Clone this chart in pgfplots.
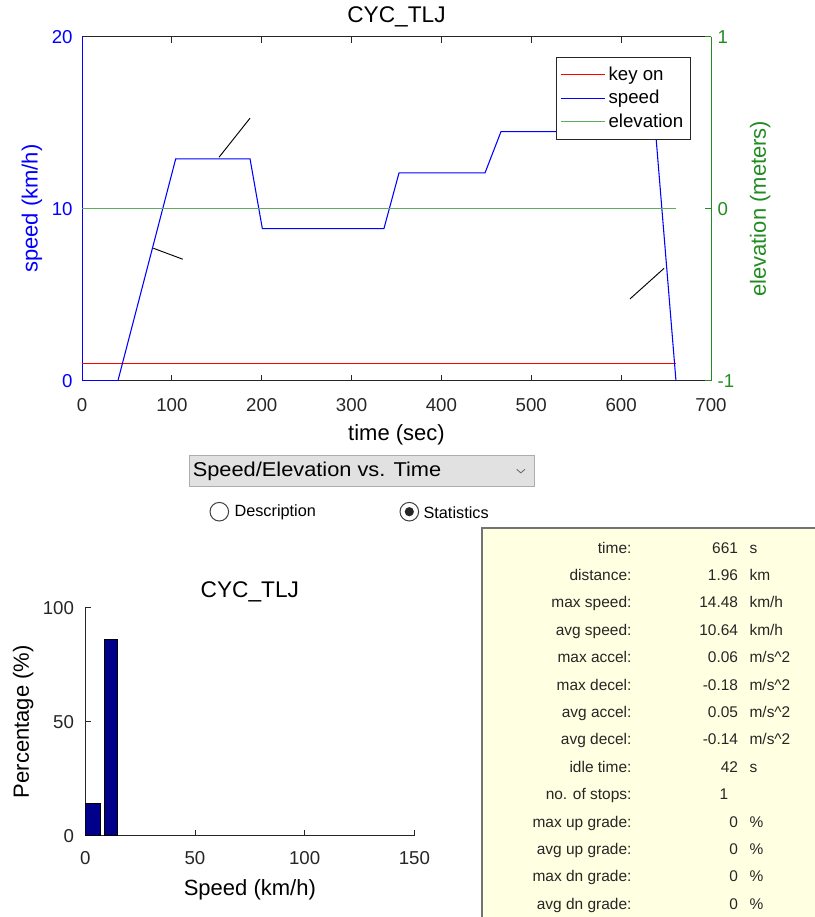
\documentclass[border=0pt]{standalone}
\usepackage{pgfplots}
\pgfplotsset{compat=1.18}
\usepackage{fontspec}
\setmainfont{Liberation Sans}
\definecolor{axgray}{RGB}{38,38,38}
\definecolor{axgreen}{RGB}{34,139,34}
\definecolor{elevgreen}{RGB}{95,172,95}
\definecolor{keyred}{RGB}{255,0,0}
\definecolor{speedblue}{RGB}{0,0,255}
\definecolor{navybar}{RGB}{0,0,139}
\definecolor{panelyellow}{RGB}{255,255,225}
\definecolor{ddgray}{RGB}{225,225,225}
\definecolor{ddborder}{RGB}{173,173,173}
\newcommand{\fs}[1]{\fontsize{#1}{#1}\selectfont}
\pgfplotsset{every axis title shift=0pt}
\begin{document}
\begin{tikzpicture}
\path[use as bounding box] (0pt,0pt) rectangle (610.5pt,-687.75pt);
% ---------- top: speed / elevation vs time ----------
\begin{axis}[
  at={(61.5pt,-285.5pt)}, anchor=south west,
  scale only axis, width=471.75pt, height=258pt,
  xmin=0, xmax=700, ymin=0, ymax=20,
  axis x line*=box, axis y line*=left,
  x axis line style={draw=axgray, line width=0.6pt},
  y axis line style={draw=speedblue, line width=0.6pt},
  tick align=inside, major tick length=4.5pt,
  xtick={0,100,...,700}, ytick={0,10,20},
  xtick style={draw=axgray, line width=0.6pt},
  ytick style={draw=speedblue, line width=0.6pt},
  /pgf/number format/assume math mode=true,
  xticklabel style={font=\fs{14}, text=axgray, yshift=-9.5pt},
  yticklabel style={font=\fs{14}, text=speedblue, xshift=-3.5pt},
  title={CYC\_TLJ},
  title style={font=\fs{17}, text=black, at={(0.5,1.057)}, anchor=center},
  xlabel={time (sec)},
  xlabel style={font=\fs{16.5}, text=black, at={(0.5,-0.158)}, anchor=center},
  ylabel={speed (km/h)},
  ylabel style={font=\fs{16.5}, text=speedblue, at={(-0.0795,0.5)}, anchor=center},
]
\addplot[draw=keyred, line width=1.1pt] coordinates {(0,1) (661,1)};
\addplot[draw=speedblue, line width=0.8pt] coordinates {
 (0,0) (40,0) (104.3,12.9) (187,12.9) (200.7,8.84) (336,8.84)
 (352.8,12.08) (448.5,12.08) (466.3,14.48) (638.3,14.48) (661,0)};
\addplot[draw=black, line width=0.7pt] coordinates {(152.5,12.99) (187,15.26)};
\addplot[draw=black, line width=0.7pt] coordinates {(79.4,7.70) (112.1,7.06)};
\addplot[draw=black, line width=0.7pt] coordinates {(609.8,4.75) (647.7,6.53)};
\end{axis}
\begin{axis}[
  at={(61.5pt,-285.5pt)}, anchor=south west,
  scale only axis, width=471.75pt, height=258pt,
  xmin=0, xmax=700, ymin=-1, ymax=1,
  axis x line=none, axis y line*=right,
  y axis line style={draw=axgreen, line width=0.6pt},
  tick align=inside, major tick length=4.5pt,
  ytick={-1,0,1},
  ytick style={draw=axgreen, line width=0.6pt},
  /pgf/number format/assume math mode=true,
  yticklabel style={font=\fs{14}, text=axgreen, xshift=1.5pt},
  ylabel={elevation (meters)},
  ylabel style={font=\fs{16.5}, text=axgreen, at={(1.078,0.5)}, anchor=center, rotate=0},
  legend style={at={(0.968,0.940)}, anchor=north east, draw=axgray, fill=white,
    font=\fs{14}, inner xsep=3.5pt, inner ysep=5pt, row sep=2pt},
  legend cell align=left,
  legend image code/.code={\draw[#1] (0pt,0pt) -- (33pt,0pt);},
]
\addlegendimage{draw=keyred, line width=0.9pt}
\addlegendentry{key on}
\addlegendimage{draw=speedblue, line width=0.8pt}
\addlegendentry{speed}
\addplot[draw=elevgreen, line width=0.9pt] coordinates {(0,0) (661,0)};
\addlegendentry{elevation}
\end{axis}
% ---------- bottom: histogram ----------
\begin{axis}[
  at={(64pt,-626.8pt)}, anchor=south west,
  scale only axis, width=246.75pt, height=171pt,
  xmin=0, xmax=150, ymin=0, ymax=100,
  axis lines*=left,
  axis line style={draw=axgray, line width=0.6pt},
  tick align=inside, major tick length=4.5pt,
  xtick={0,50,100,150}, ytick={0,50,100},
  tick style={draw=axgray, line width=0.6pt},
  /pgf/number format/assume math mode=true,
  xticklabel style={font=\fs{14}, text=axgray, yshift=-8pt},
  yticklabel style={font=\fs{14}, text=axgray, xshift=-5pt},
  title={CYC\_TLJ},
  title style={font=\fs{17}, text=black, at={(0.5,1.070)}, anchor=center},
  xlabel={Speed (km/h)},
  xlabel style={font=\fs{16.5}, text=black, at={(0.5,-0.238)}, anchor=center},
  ylabel={Percentage (\%)},
  ylabel style={font=\fs{16.5}, text=black, at={(-0.189,0.5)}, anchor=center},
]
\addplot[fill=navybar, draw=black, line width=0.6pt] coordinates {(0,0) (0,14.2) (6.7,14.2) (6.7,0)} -- cycle;
\addplot[fill=navybar, draw=black, line width=0.6pt] coordinates {(8.7,0) (8.7,86.3) (14.8,86.3) (14.8,0)} -- cycle;
\end{axis}
% ---------- GUI elements ----------
\begin{scope}[x=0.75pt, y=-0.75pt]
 \draw[ddborder, fill=ddgray, line width=0.75pt] (189.3,455.7) rectangle (534.3,486);
 \node[anchor=west, inner sep=0pt, font=\fs{15}, text=black, xscale=1.09] at (192.5,471) {Speed/Elevation vs. Time};
 \draw[black!60, line width=0.6pt] (516.7,469.3) -- (520.8,472.9) -- (525,469.3);
 \draw[black!75, fill=white, line width=0.75pt] (219.3,511.7) circle (9.3);
 \node[anchor=west, inner sep=0pt, font=\fs{12.2}] at (234.3,512.2) {Description};
 \draw[black!75, fill=white, line width=0.75pt] (409.3,511.7) circle (9.3);
 \fill[black!85] (409.3,511.7) circle (4.6);
 \node[anchor=west, inner sep=0pt, font=\fs{12.2}] at (423.3,512.2) {Statistics};
 % statistics panel
 \draw[black!55, fill=panelyellow, line width=0.9pt] (482,528) rectangle (820,925);
 \foreach \lab/\val/\unit [count=\i from 0] in {
   time:/661/s, distance:/1.96/km, max speed:/14.48/km\slash h, avg speed:/10.64/km\slash h,
   max accel:/0.06/m\slash s\textasciicircum 2, max decel:/-0.18/m\slash s\textasciicircum 2,
   avg accel:/0.05/m\slash s\textasciicircum 2, avg decel:/-0.14/m\slash s\textasciicircum 2,
   idle time:/42/s, no. of stops:/{}/{}, max up grade:/0/\%, avg up grade:/0/\%,
   max dn grade:/0/\%, avg dn grade:/0/\%} {
   \pgfmathsetmacro{\yy}{547.7+27.4*\i+5.3}
   \node[anchor=base east, inner sep=0pt, font=\fs{11.6}, text=axgray] at (631.7,\yy) {\lab};
   \node[anchor=base east, inner sep=0pt, font=\fs{11.6}, text=axgray] at (738.3,\yy) {\val};
   \node[anchor=base west, inner sep=0pt, font=\fs{11.6}, text=axgray] at (749.3,\yy) {\unit};
 }
 \node[anchor=base east, inner sep=0pt, font=\fs{11.6}, text=axgray] at (728.5,{547.7+27.4*9+5.3}) {1};
\end{scope}
\end{tikzpicture}
\end{document}
